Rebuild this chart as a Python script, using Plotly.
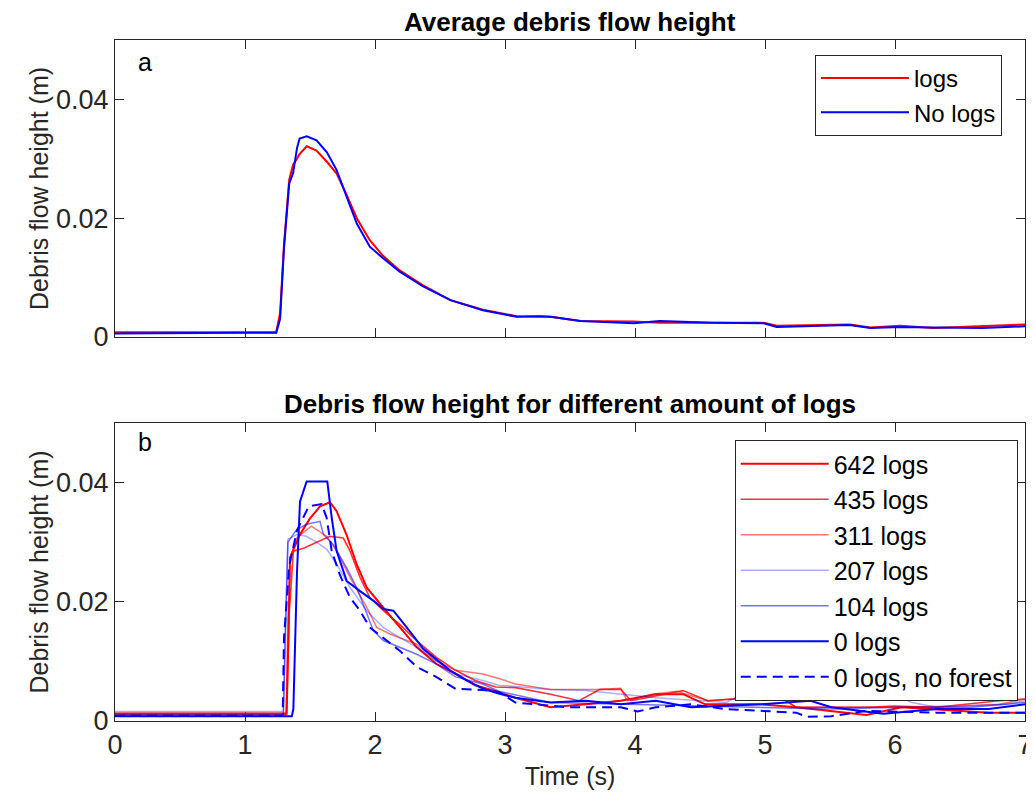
import plotly.graph_objects as go
from plotly.subplots import make_subplots

# ---------------- Panel a: average debris flow height ----------------
t_a = [0.0, 0.5, 1.0, 1.24, 1.27, 1.30, 1.34, 1.37, 1.40, 1.42, 1.475, 1.55, 1.63, 1.705,
       1.78, 1.86, 1.96, 2.06, 2.19, 2.37, 2.58, 2.83, 3.09, 3.27, 3.35, 3.58, 3.99, 4.19,
       4.6, 4.99, 5.09, 5.4, 5.65, 5.81, 6.04, 6.29, 6.67, 7.0]
logs_a = [0.0008, 0.0008, 0.0008, 0.0008, 0.0040, 0.0155, 0.0265, 0.0290, 0.0300, 0.0308, 0.0321,
          0.0314, 0.0295, 0.0275, 0.0240, 0.0200, 0.0163, 0.0137, 0.0112, 0.0087, 0.0062, 0.0046,
          0.0035, 0.0035, 0.0034, 0.0027, 0.0026, 0.0024, 0.0024, 0.0024, 0.0019, 0.0020, 0.0021,
          0.0016, 0.0019, 0.0015, 0.0018, 0.0021]
nologs_a = [0.0006, 0.0007, 0.0007, 0.0007, 0.0030, 0.0150, 0.0258, 0.0276, 0.0318, 0.0334, 0.0338,
            0.0331, 0.0311, 0.0281, 0.0236, 0.0191, 0.0152, 0.0133, 0.0110, 0.0085, 0.0062, 0.0045,
            0.0034, 0.0035, 0.0034, 0.0027, 0.0023, 0.0027, 0.0024, 0.0023, 0.0017, 0.0019, 0.0020,
            0.0015, 0.0017, 0.0016, 0.0015, 0.0018]

# ---------------- Panel b: different amount of logs ----------------
t_642 = [0.0, 1.0, 1.32, 1.335, 1.346, 1.42, 1.50, 1.577, 1.654, 1.705, 1.782, 1.859, 1.936, 2.064,
         2.19, 2.32, 2.47, 2.62, 2.77, 2.93, 3.08, 3.35, 3.62, 3.89, 4.16, 4.37, 4.54, 4.97, 5.24,
         5.78, 6.05, 6.45, 6.72, 7.0]
h_642 = [0.0012, 0.0012, 0.0012, 0.0150, 0.0274, 0.0312, 0.0340, 0.0360, 0.0367, 0.0352, 0.0312,
         0.0263, 0.0224, 0.0190, 0.0157, 0.0124, 0.0096, 0.0079, 0.0060, 0.0050, 0.0039, 0.0023,
         0.0028, 0.0034, 0.0045, 0.0045, 0.0028, 0.0028, 0.0023, 0.0010, 0.0023, 0.0017, 0.0014,
         0.0014]

t_435 = [0.0, 1.0, 1.32, 1.34, 1.372, 1.449, 1.551, 1.654, 1.756, 1.808, 1.885, 1.96, 2.064, 2.19,
         2.32, 2.47, 2.62, 2.77, 2.93, 3.08, 3.35, 3.57, 3.73, 3.89, 3.97, 4.16, 4.37, 4.56, 5.10,
         5.24, 5.78, 5.99, 6.32, 6.80, 7.0]
h_435 = [0.0013, 0.0013, 0.0013, 0.0180, 0.0285, 0.0290, 0.0300, 0.0310, 0.0307, 0.0285, 0.0241,
         0.0207, 0.0185, 0.0162, 0.0135, 0.0107, 0.0085, 0.0068, 0.0057, 0.0056, 0.0045, 0.0034,
         0.0053, 0.0053, 0.0034, 0.0042, 0.0051, 0.0034, 0.0042, 0.0023, 0.0023, 0.0025, 0.0023,
         0.0034, 0.0037]

t_311 = [0.0, 1.0, 1.315, 1.33, 1.35, 1.397, 1.51, 1.628, 1.705, 1.808, 1.936, 2.013, 2.115, 2.32,
         2.47, 2.62, 2.83, 2.96, 3.08, 3.35, 3.73, 3.89, 3.94, 4.13, 4.32, 4.56, 5.10, 5.24, 5.9,
         6.5, 6.8, 7.0]
h_311 = [0.0011, 0.0011, 0.0011, 0.0170, 0.0274, 0.0307, 0.0327, 0.0310, 0.0285, 0.0241, 0.0191,
         0.0157, 0.0146, 0.0129, 0.0101, 0.0085, 0.0079, 0.0071, 0.0062, 0.0053, 0.0053, 0.0055,
         0.0034, 0.0045, 0.0050, 0.0034, 0.0042, 0.0023, 0.0023, 0.0025, 0.0028, 0.0037]

t_207 = [0.0, 1.0, 1.295, 1.31, 1.33, 1.40, 1.47, 1.55, 1.63, 1.705, 1.808, 1.936, 2.064, 2.19,
         2.32, 2.47, 2.62, 2.83, 2.95, 3.08, 3.35, 3.62, 4.16, 4.70, 4.83, 5.02, 5.24, 5.78, 5.88,
         5.99, 6.13, 6.32, 6.85, 7.0]
h_207 = [0.0016, 0.0016, 0.0016, 0.0150, 0.0305, 0.0313, 0.0310, 0.0300, 0.0288, 0.0263, 0.0224,
         0.0185, 0.0157, 0.0140, 0.0124, 0.0101, 0.0079, 0.0068, 0.0060, 0.0058, 0.0053, 0.0051,
         0.0039, 0.0031, 0.0045, 0.0042, 0.0034, 0.0039, 0.0045, 0.0045, 0.0031, 0.0023, 0.0028,
         0.0034]

t_104 = [0.0, 1.0, 1.295, 1.31, 1.33, 1.397, 1.474, 1.577, 1.603, 1.68, 1.782, 1.859, 1.936, 1.987,
         2.064, 2.19, 2.32, 2.47, 2.62, 2.83, 2.95, 3.35, 3.89, 4.43, 4.97, 5.51, 6.05, 6.58, 7.0]
h_104 = [0.0010, 0.0010, 0.0010, 0.0140, 0.0300, 0.0321, 0.0330, 0.0335, 0.0313, 0.0296, 0.0257,
         0.0224, 0.0180, 0.0152, 0.0135, 0.0124, 0.0112, 0.0096, 0.0074, 0.0062, 0.0050, 0.0031,
         0.0028, 0.0025, 0.0023, 0.0020, 0.0023, 0.0023, 0.0031]

t_0 = [0.0, 1.0, 1.36, 1.372, 1.40, 1.423, 1.474, 1.633, 1.667, 1.705, 1.782, 1.885, 1.987, 2.064,
       2.141, 2.244, 2.372, 2.577, 2.705, 2.833, 2.95, 3.08, 3.35, 3.62, 3.89, 4.16, 4.43, 4.97,
       5.35, 5.51, 5.91, 6.32, 6.72, 7.0]
h_0 = [0.0008, 0.0008, 0.0008, 0.0020, 0.0250, 0.0368, 0.0402, 0.0402, 0.0341, 0.0285, 0.0235,
       0.0218, 0.0202, 0.0188, 0.0185, 0.0157, 0.0121, 0.0085, 0.0068, 0.0054, 0.0046, 0.0039,
       0.0031, 0.0034, 0.0028, 0.0034, 0.0023, 0.0028, 0.0034, 0.0023, 0.0012, 0.0020, 0.0020,
       0.0028]

t_nf = [0.0, 1.0, 1.29, 1.30, 1.34, 1.40, 1.49, 1.589, 1.628, 1.667, 1.73, 1.808, 1.885, 1.96,
        2.064, 2.19, 2.32, 2.47, 2.62, 2.83, 2.95, 3.08, 3.48, 3.89, 4.02, 4.16, 4.43, 4.70, 5.24,
        5.32, 5.51, 5.78, 6.32, 7.0]
h_nf = [0.0009, 0.0009, 0.0009, 0.0140, 0.0260, 0.0320, 0.0360, 0.0364, 0.0341, 0.0285, 0.0245,
        0.0207, 0.0185, 0.0157, 0.0140, 0.0118, 0.0091, 0.0074, 0.0054, 0.0052, 0.0049, 0.0031,
        0.0023, 0.0023, 0.0016, 0.0023, 0.0028, 0.0020, 0.0014, 0.0007, 0.0008, 0.0017, 0.0014,
        0.0014]

labels_b = ["642 logs", "435 logs", "311 logs", "207 logs", "104 logs", "0 logs", "0 logs, no forest"]

FONT = "Liberation Sans, Arial, Helvetica, sans-serif"
AX = "#262626"

fig = make_subplots(rows=2, cols=1, vertical_spacing=0.0)

fig.add_trace(go.Scatter(x=t_a, y=logs_a, mode="lines", name="logs",
                         line=dict(color="#ff0000", width=2), legend="legend"), row=1, col=1)
fig.add_trace(go.Scatter(x=t_a, y=nologs_a, mode="lines", name="No logs",
                         line=dict(color="#0000ff", width=2), legend="legend"), row=1, col=1)

series_b = [
    (t_642, h_642, "rgb(255,0,0)", 2, "solid"),
    (t_435, h_435, "rgba(255,0,0,0.8)", 1.6, "solid"),
    (t_311, h_311, "rgba(255,0,0,0.55)", 1.5, "solid"),
    (t_207, h_207, "rgba(0,0,255,0.32)", 1.5, "solid"),
    (t_104, h_104, "rgba(0,0,255,0.55)", 1.5, "solid"),
    (t_0, h_0, "rgb(0,0,255)", 2, "solid"),
    (t_nf, h_nf, "rgb(0,0,255)", 2, "10px,6px"),
]
for (tx, hy, col, w, dash), lab in zip(series_b, labels_b):
    fig.add_trace(go.Scatter(x=tx, y=hy, mode="lines", name=lab,
                             line=dict(color=col, width=w, dash=dash), legend="legend2"),
                  row=2, col=1)

TICKFONT = dict(family=FONT, size=27, color=AX)
axis_common = dict(range=[0, 7], showline=True, linecolor=AX, linewidth=1, mirror="ticks",
                   ticks="inside", ticklen=9, tickcolor=AX, showgrid=False, zeroline=False,
                   tickvals=[0, 1, 2, 3, 4, 5, 6, 7], tickfont=TICKFONT, automargin=False,
                   ticklabeloverflow="allow")
fig.update_xaxes(**axis_common)
fig.update_xaxes(showticklabels=False, row=1, col=1)
fig.update_xaxes(title=dict(text="Time (s)", font=dict(family=FONT, size=25, color=AX), standoff=8),
                 row=2, col=1)

yaxis_common = dict(range=[0, 0.05], showline=True, linecolor=AX, linewidth=1, mirror="ticks",
                    ticks="inside", ticklen=9, tickcolor=AX, showgrid=False, zeroline=False,
                    tickvals=[0, 0.02, 0.04], ticktext=["0", "0.02", "0.04"],
                    tickfont=TICKFONT, automargin=False,
                    title=dict(text="Debris flow height (m)", font=dict(family=FONT, size=25, color=AX),
                               standoff=0))
fig.update_yaxes(**yaxis_common)

# The page body has a default 8px margin, so the figure is 8px smaller than the window
fig.update_layout(
    width=1026, height=793,
    margin=dict(l=107, r=9, t=32, b=80, autoexpand=False),
    paper_bgcolor="white", plot_bgcolor="white",
    xaxis=dict(domain=[0, 1]), yaxis=dict(domain=[0.5639, 1.0]),
    xaxis2=dict(domain=[0, 1]), yaxis2=dict(domain=[0.0, 0.4376]),
    legend=dict(x=0.9747, y=0.978, xanchor="right", yanchor="top", bgcolor="white",
                bordercolor=AX, borderwidth=1, font=dict(family=FONT, size=24, color="#000"),
                itemwidth=88, tracegroupgap=0),
    legend2=dict(x=0.992, y=0.4126, xanchor="right", yanchor="top", bgcolor="white",
                 bordercolor=AX, borderwidth=1, font=dict(family=FONT, size=25, color="#000"),
                 itemwidth=88, tracegroupgap=0),
    showlegend=True,
    annotations=[
        dict(text="<b>Average debris flow height</b>", xref="paper", yref="paper", x=0.5, y=1.0,
             yanchor="middle", yshift=18, showarrow=False, font=dict(family=FONT, size=26, color="#000")),
        dict(text="<b>Debris flow height for different amount of logs</b>", xref="paper", yref="paper",
             x=0.5, y=0.4376, yanchor="middle", yshift=19, showarrow=False,
             font=dict(family=FONT, size=26, color="#000")),
        dict(text="a", xref="x domain", yref="y domain", x=0.033, y=0.925, xanchor="center",
             yanchor="middle", showarrow=False, font=dict(family=FONT, size=25, color="#000")),
        dict(text="b", xref="x2 domain", yref="y2 domain", x=0.033, y=0.935, xanchor="center",
             yanchor="middle", showarrow=False, font=dict(family=FONT, size=25, color="#000")),
    ],
)

fig.write_html("out.html")
